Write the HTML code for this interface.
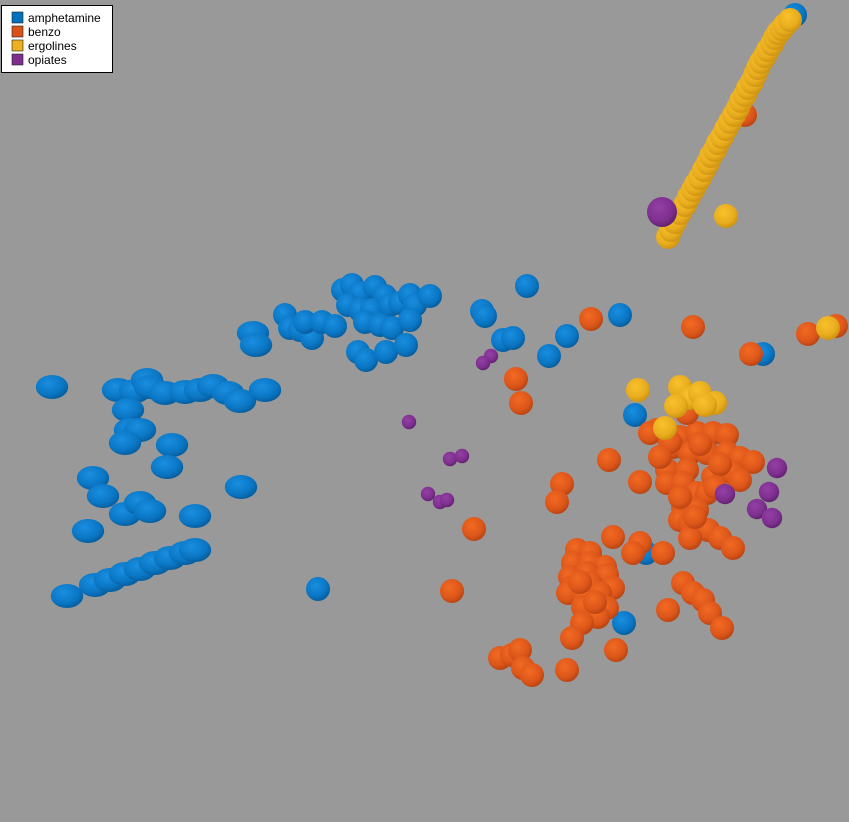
<!DOCTYPE html>
<html><head><meta charset="utf-8">
<style>
html,body{margin:0;padding:0;background:#999999;}
svg{display:block;}
text{font-family:"Liberation Sans",Arial,sans-serif;}
</style></head>
<body>
<svg id="chart" width="849" height="822" xmlns="http://www.w3.org/2000/svg">
<defs>
<radialGradient id="g-blue" cx="40%" cy="35%" r="65%"><stop offset="0" stop-color="#1a8ee0"/><stop offset="0.7" stop-color="#0a76c4"/><stop offset="1" stop-color="#065fa0"/></radialGradient>
<radialGradient id="g-orange" cx="40%" cy="35%" r="65%"><stop offset="0" stop-color="#f26a22"/><stop offset="0.7" stop-color="#dc561a"/><stop offset="1" stop-color="#bb4512"/></radialGradient>
<radialGradient id="g-yellow" cx="40%" cy="35%" r="65%"><stop offset="0" stop-color="#f8c22c"/><stop offset="0.7" stop-color="#e8ac1e"/><stop offset="1" stop-color="#cf9412"/></radialGradient>
<radialGradient id="g-purple" cx="40%" cy="35%" r="65%"><stop offset="0" stop-color="#9440a6"/><stop offset="0.7" stop-color="#7e2f8e"/><stop offset="1" stop-color="#632272"/></radialGradient>
</defs>
<rect x="0" y="0" width="849" height="822" fill="#999999"/>
<g id="marks"></g>
<g>
<rect x="1.5" y="5.5" width="111" height="67" fill="#ffffff" stroke="#000" stroke-width="1"/>
<g><rect x="12" y="12" width="11" height="11" fill="#0072bd" stroke="#222" stroke-width="0.6"/><text x="28" y="22" font-size="12">amphetamine</text></g>
<g><rect x="12" y="26" width="11" height="11" fill="#d95319" stroke="#222" stroke-width="0.6"/><text x="28" y="36" font-size="12">benzo</text></g>
<g><rect x="12" y="40" width="11" height="11" fill="#edb120" stroke="#222" stroke-width="0.6"/><text x="28" y="50" font-size="12">ergolines</text></g>
<g><rect x="12" y="54" width="11" height="11" fill="#7e2f8e" stroke="#222" stroke-width="0.6"/><text x="28" y="64" font-size="12">opiates</text></g>
</g>
</svg>
<script>
const benzoX=[59.1,69.3,80.8,83.6,75.1,51.6,52.1,60.9,56.2,55.7,47.4,45.2,64.0,74.5,
65.7,68.0,69.7,71.3,72.7,67.3,69.0,70.7,72.7,74.0,75.3,66.7,68.7,71.3,73.3,74.0,66.7,68.3,69.7,70.7,68.3,69.7,68.0,69.0,65.0,68.7,70.8,72.0,73.3,69.0,66.3,64.0,63.3,61.3,
67.0,70.0,72.0,66.0,68.0,71.5,69.5,
57.7,59.0,57.3,59.0,60.5,57.0,58.7,60.7,57.3,59.0,61.3,56.8,58.5,60.0,58.3,60.7,59.8,58.2,57.2,61.6,56.7,68.3,69.3,70.3,71.0,72.2,66.8,
58.0,59.5,
50.0,51.2,52.0,52.3,53.2];
const benzoY=[50.3,49.5,48.8,49.6,46.8,44.3,41.9,36.2,33.8,32.0,29.3,23.1,34.0,70.7,
39.2,38.5,38.9,38.9,38.7,37.5,36.9,36.9,36.9,36.4,36.0,35.2,35.2,34.5,34.9,34.2,33.9,33.9,32.9,32.9,31.5,31.2,30.2,29.9,38.9,40.9,29.2,28.4,27.4,28.4,26.9,27.9,26.9,28.5,
38.0,37.8,35.8,36.5,32.5,33.5,30.5,
27.2,26.9,25.9,25.9,25.5,24.5,24.9,24.7,23.5,23.9,23.4,22.9,22.5,22.9,21.5,21.4,20.5,19.9,18.4,17.2,15.2,23.9,22.9,22.2,20.9,19.4,21.2,
24.0,22.0,
16.4,16.7,17.2,15.4,14.7];
const amphX=[5.2,11.8,13.5,14.7,15.0,16.5,18.5,20.0,21.3,22.8,24.0,26.5,12.8,13.0,14.0,12.5,17.2,16.7,9.3,10.3,12.5,14.0,15.0,8.8,19.5,24.1,
6.7,9.5,11.0,12.5,14.0,15.5,17.0,18.5,19.5,31.8,
25.3,25.6,28.5,29.0,30.0,31.2,30.5,32.2,33.5,34.3,35.2,36.0,37.5,38.5,34.8,36.0,37.2,39.0,40.0,41.0,41.5,43.0,36.5,38.0,39.2,41.0,35.8,36.6,38.6,40.6,
52.7,48.2,48.5,50.3,51.3,54.9,56.7,62.0,76.3,63.5,64.6,62.4,79.5];
const amphY=[43.5,43.2,43.1,44.2,43.5,42.9,43.0,43.2,43.6,42.9,42.1,43.2,41.2,39.2,39.2,37.9,37.7,35.5,34.4,32.6,30.8,31.9,31.1,29.1,30.6,33.5,
22.6,23.7,24.2,24.8,25.3,25.9,26.4,26.9,27.2,23.3,
48.9,47.7,50.7,49.4,49.2,48.4,50.0,50.0,49.6,53.2,53.7,52.9,53.5,52.6,51.7,51.2,51.2,51.7,51.9,52.7,51.7,52.6,50.0,49.7,49.4,50.2,47.0,46.2,47.0,47.7,
53.6,51.1,50.6,48.2,48.4,46.6,48.6,50.7,46.8,40.7,26.9,19.9,80.7];
const ergoX=[66.8,67.1,67.5,68.0,68.5,68.9,69.3,69.6,70.0,70.4,70.8,71.1,71.5,71.8,72.2,72.6,73.0,73.4,73.8,74.1,74.5,74.8,75.2,75.5,75.8,76.1,76.5,76.8,77.2,77.5,77.8,78.2,78.5,79.0,72.6,82.8,63.8,68.0,69.0,70.0,71.5,67.6,70.5,66.5];
const ergoY=[58.5,59.2,60.0,60.9,61.7,62.5,63.2,63.8,64.4,65.2,65.9,66.6,67.2,67.9,68.5,69.3,70.0,70.7,71.4,72.1,72.7,73.4,74.0,74.7,75.4,76.0,76.6,77.2,77.8,78.4,78.9,79.3,79.7,80.2,60.6,49.4,43.2,43.5,42.4,42.9,41.9,41.6,41.7,39.4];
const opiX=[66.2,49.1,48.3,40.9,45.0,46.2,42.8,44.0,44.7,77.7,76.9,75.7,77.2,72.5];
const opiY=[61.0,46.6,45.9,40.0,36.3,36.6,32.8,32.0,32.2,35.4,33.0,31.3,30.4,32.8];
const opiSize=[1.25,0.6,0.6,0.6,0.6,0.6,0.6,0.6,0.6,0.85,0.85,0.85,0.85,0.85];

function xScale(v){return v*10;}
function yScale(v){return 822-v*10;}
const R=12;
const NS="http://www.w3.org/2000/svg";
const marks=document.getElementById('marks');
function drawSeries(xs,ys,grad,name,sizes){
  const g=document.createElementNS(NS,'g');
  
  
  marks.appendChild(g);
  for(let i=0;i<xs.length;i++){
    const e=document.createElementNS(NS,'ellipse');
    const cx=xScale(xs[i]), cy=yScale(ys[i]);
    const s=sizes?sizes[i]:1;
    const stretch=(name==='amphetamine'&&cx<270)?1.35:1;
    e.setAttribute('cx',cx);e.setAttribute('cy',cy);
    e.setAttribute('rx',R*s*stretch);e.setAttribute('ry',R*s);
    e.setAttribute('fill','url(#'+grad+')');
    
    
    g.appendChild(e);
  }
}
drawSeries(amphX,amphY,'g-blue','amphetamine',null);
drawSeries(benzoX,benzoY,'g-orange','benzo',null);
drawSeries(ergoX,ergoY,'g-yellow','ergolines',null);
drawSeries(opiX,opiY,'g-purple','opiates',opiSize);
</script>
</body></html>
